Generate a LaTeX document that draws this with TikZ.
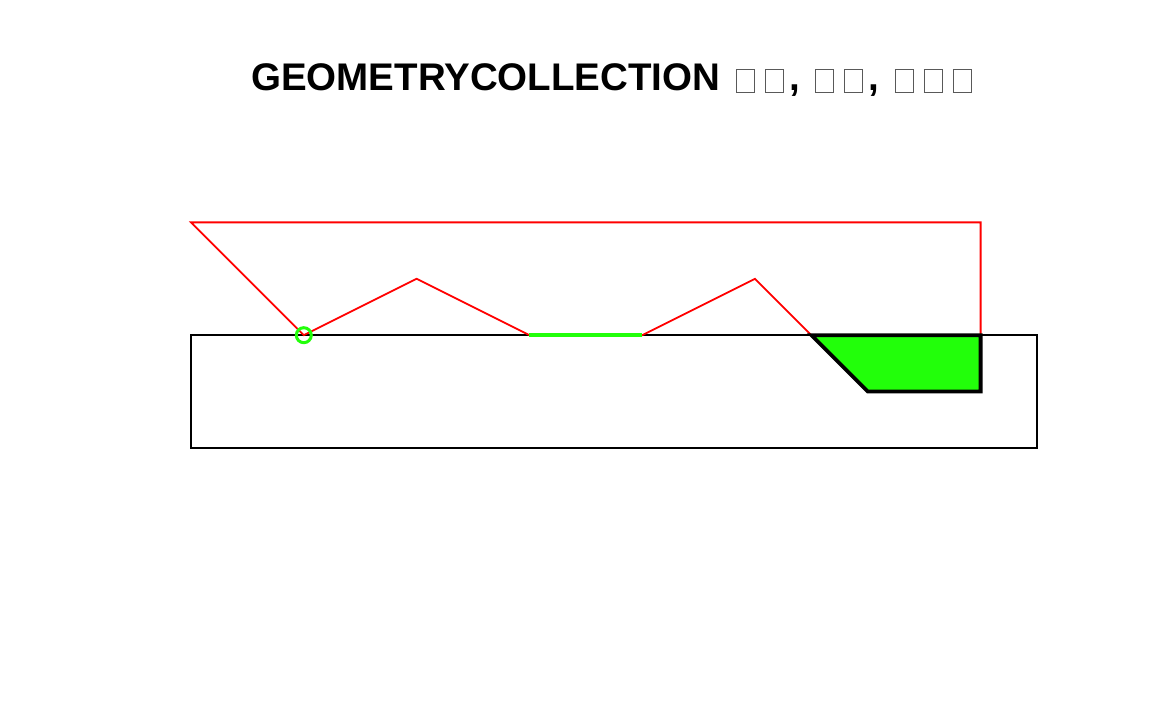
\documentclass[tikz,border=0pt]{standalone}
\usepackage{fontspec}
\setmainfont{Liberation Sans}
\usepackage{xcolor}
\usetikzlibrary{positioning,calc}
\definecolor{geogreen}{RGB}{34,255,10}
\newcommand{\tofubox}{\hspace{5pt}{\color{black!65}\setlength{\fboxsep}{0pt}\setlength{\fboxrule}{1pt}\raisebox{-0.6pt}{\fbox{\rule{0pt}{21.5pt}\hspace{17pt}}}}\hspace{5pt}}

\begin{document}
\begin{tikzpicture}[
    x=56.4pt, y=56.4pt,
    frame/.style={draw=black, line width=1.6pt},
    ring/.style={draw=red, line width=1.8pt, line join=miter},
    seg/.style={draw=geogreen, line width=4pt},
    pt/.style={draw=geogreen, line width=3pt},
    poly/.style={draw=black, fill=geogreen, line width=3.8pt, line join=miter},
    heading/.style={font=\bfseries\fontsize{38.5pt}{40pt}\selectfont, inner sep=0pt, anchor=base west}
]
\useasboundingbox (-191pt,-263pt) rectangle (961pt,448pt);
% title
\node[heading] (title) at (60pt,357pt) {GEOMETRYCOLLECTION \tofubox\tofubox, \tofubox\tofubox, \tofubox\tofubox\tofubox};
% envelope
\draw[frame] (0,0) rectangle (15,2);
% red line string
\draw[ring] (0,4) -- (2,2) -- (4,3) -- (6,2) -- (8,2) -- (10,3) -- (11,2) -- (14,2) -- (14,4) -- cycle;
% green line string
\draw[seg] (6,2) -- (8,2);
% green point
\draw[pt] (2,2) circle (7.5pt);
% polygon
\draw[poly] (11,2) -- (12,1) -- (14,1) -- (14,2) -- cycle;
\end{tikzpicture}
\end{document}
